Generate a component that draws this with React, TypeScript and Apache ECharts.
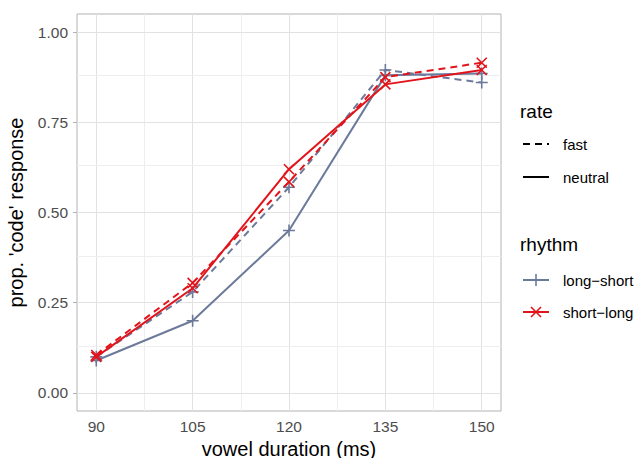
import React, { useEffect, useRef } from "react";
import * as echarts from "echarts";

const durations = [90, 105, 120, 135, 150];
const longShortNeutral = [0.09, 0.2, 0.45, 0.88, 0.885];
const longShortFast = [0.1, 0.28, 0.57, 0.895, 0.86];
const shortLongNeutral = [0.1, 0.29, 0.62, 0.855, 0.895];
const shortLongFast = [0.105, 0.305, 0.585, 0.875, 0.915];

const xTicks = [90, 105, 120, 135, 150];
const xMinor = [97.5, 112.5, 127.5, 142.5];
const yTicks = [0, 0.25, 0.5, 0.75, 1];
const yMinor = [0.125, 0.375, 0.625, 0.875];

const GREY = "#6c7a9a";
const RED = "#e2141b";
const FONT = "'Liberation Sans', Arial, Helvetica, sans-serif";
const PLUS = "path://M0,6L12,6M6,0L6,12";
const CROSS = "path://M0,0L12,12M12,0L0,12";

function pairs(vals: number[]) {
  return durations.map((d, i) => [d, vals[i]]);
}

export default function App() {
  const ref = useRef<HTMLDivElement>(null);
  useEffect(() => {
    if (!ref.current) return;
    const chart = echarts.init(ref.current, null, { renderer: "svg" });
    const mk = (name: string, vals: number[], color: string, dashed: boolean, sym: string, size: number) => ({
      name,
      type: "line",
      data: pairs(vals),
      symbol: sym,
      symbolSize: size,
      z: 5,
      lineStyle: { color, width: 2, type: dashed ? [7, 5] : "solid" },
      itemStyle: { color: "rgba(0,0,0,0)", borderColor: color, borderWidth: 1.6 },
    });
    const gridLines = [
      ...xTicks.map((v) => ({ xAxis: v, lineStyle: { color: "#e2e2e2", width: 1, type: "solid" } })),
      ...xMinor.map((v) => ({ xAxis: v, lineStyle: { color: "#eeeeee", width: 1, type: "solid" } })),
      ...yTicks.map((v) => ({ yAxis: v, lineStyle: { color: "#e2e2e2", width: 1, type: "solid" } })),
      ...yMinor.map((v) => ({ yAxis: v, lineStyle: { color: "#eeeeee", width: 1, type: "solid" } })),
    ];
    const lx = 523;
    const tx = 563;
    chart.setOption({
      animation: false,
      grid: {
        left: 77, right: 142, top: 14, bottom: 47,
        containLabel: false, outerBoundsMode: "none",
        show: true, borderColor: "#b3b3b3", borderWidth: 1, backgroundColor: "#fff",
      },
      xAxis: {
        type: "value",
        min: 87,
        max: 153,
        name: "vowel duration (ms)",
        nameLocation: "middle",
        nameGap: 28,
        nameTextStyle: { fontFamily: FONT, fontSize: 20, color: "#000" },
        axisLine: { show: false },
        splitLine: { show: false },
        axisTick: { show: true, customValues: xTicks, length: 4, lineStyle: { color: "#b3b3b3" } },
        axisLabel: { customValues: xTicks, margin: 7, fontFamily: FONT, fontSize: 15.5, color: "#4d4d4d" },
      },
      yAxis: {
        type: "value",
        min: -0.05,
        max: 1.05,
        name: "prop. 'code' response",
        nameLocation: "middle",
        nameGap: 51,
        nameTextStyle: { fontFamily: FONT, fontSize: 20, color: "#000" },
        axisLine: { show: false },
        splitLine: { show: false },
        axisTick: { show: true, customValues: yTicks, length: 4, lineStyle: { color: "#b3b3b3" } },
        axisLabel: { customValues: yTicks, margin: 9, fontFamily: FONT, fontSize: 15.5, color: "#4d4d4d", formatter: (v: number) => v.toFixed(2) },
      },
      series: [
        {
          name: "grid",
          type: "line",
          data: [],
          z: 1,
          silent: true,
          markLine: { silent: true, symbol: ["none", "none"], label: { show: false }, data: gridLines, z: 1 },
        },
        mk("long-short fast", longShortFast, GREY, true, PLUS, 12),
        mk("long-short neutral", longShortNeutral, GREY, false, PLUS, 12),
        mk("short-long fast", shortLongFast, RED, true, CROSS, 10),
        mk("short-long neutral", shortLongNeutral, RED, false, CROSS, 10),
      ],
      graphic: [
        { type: "text", left: 520, top: 102, style: { text: "rate", font: `19px ${FONT}`, fill: "#000" } },
        { type: "line", shape: { x1: lx, y1: 144, x2: lx + 26, y2: 144 }, style: { stroke: "#000", lineWidth: 2, lineDash: [7, 5] } },
        { type: "text", x: tx, y: 144, style: { text: "fast", font: `15px ${FONT}`, fill: "#000", verticalAlign: "middle" } },
        { type: "line", shape: { x1: lx, y1: 177, x2: lx + 26, y2: 177 }, style: { stroke: "#000", lineWidth: 2 } },
        { type: "text", x: tx, y: 177, style: { text: "neutral", font: `15px ${FONT}`, fill: "#000", verticalAlign: "middle" } },
        { type: "text", left: 520, top: 235, style: { text: "rhythm", font: `19px ${FONT}`, fill: "#000" } },
        { type: "line", shape: { x1: lx, y1: 280, x2: lx + 26, y2: 280 }, style: { stroke: GREY, lineWidth: 2 } },
        { type: "line", shape: { x1: lx + 13, y1: 274, x2: lx + 13, y2: 286 }, style: { stroke: GREY, lineWidth: 1.6 } },
        { type: "text", x: tx, y: 280, style: { text: "long\u2212short", font: `15px ${FONT}`, fill: "#000", verticalAlign: "middle" } },
        { type: "line", shape: { x1: lx, y1: 312, x2: lx + 26, y2: 312 }, style: { stroke: RED, lineWidth: 2 } },
        { type: "line", shape: { x1: lx + 8, y1: 307, x2: lx + 18, y2: 317 }, style: { stroke: RED, lineWidth: 1.6 } },
        { type: "line", shape: { x1: lx + 18, y1: 307, x2: lx + 8, y2: 317 }, style: { stroke: RED, lineWidth: 1.6 } },
        { type: "text", x: tx, y: 312, style: { text: "short\u2212long", font: `15px ${FONT}`, fill: "#000", verticalAlign: "middle" } },
      ],
    });
    return () => chart.dispose();
  }, []);
  return <div ref={ref} style={{ width: 643, height: 458, position: "absolute", left: 0, top: 0, background: "#fff" }} />;
}
